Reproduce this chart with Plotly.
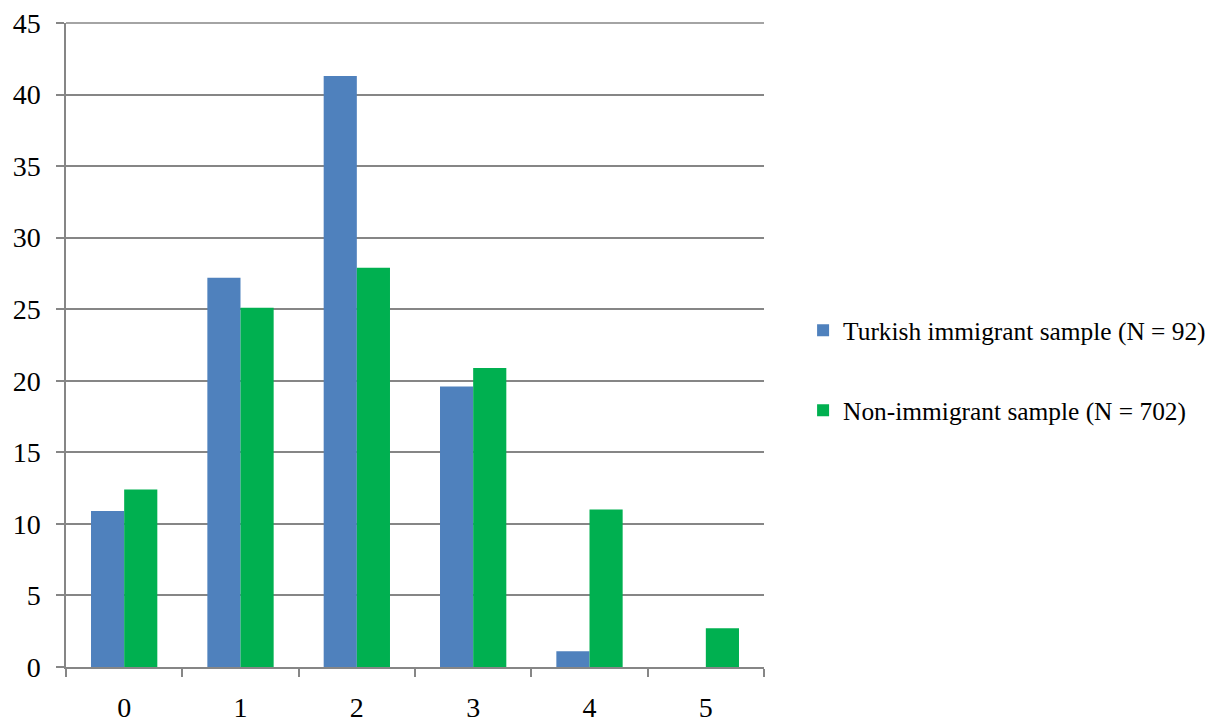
import plotly.graph_objects as go

categories = ["0", "1", "2", "3", "4", "5"]
turkish = [10.9, 27.2, 41.3, 19.6, 1.1, 0]
non_immigrant = [12.4, 25.1, 27.9, 20.9, 11.0, 2.7]
series_names = ["Turkish immigrant sample (N = 92)", "Non-immigrant sample (N = 702)"]
y_ticks = [0, 5, 10, 15, 20, 25, 30, 35, 40, 45]

fig = go.Figure()
fig.add_trace(go.Bar(x=categories, y=turkish, name=series_names[0],
                     marker=dict(color="#4F81BD", line=dict(width=0)),
                     legendgroup="a"))
fig.add_trace(go.Bar(x=categories, y=non_immigrant, name=series_names[1],
                     marker=dict(color="#00B050", line=dict(width=0)),
                     legendgroup="b"))

# top gridline (at the upper end of the value axis)
fig.add_shape(type="line", xref="x domain", yref="y domain", x0=0, x1=1, y0=1, y1=1,
              line=dict(color="#868686", width=1.5), layer="below")

fig.update_layout(
    width=1218, height=723,
    margin=dict(l=58, r=462, t=15, b=64, autoexpand=False),
    paper_bgcolor="white", plot_bgcolor="white",
    font=dict(family="Times New Roman, Liberation Serif, serif", size=28, color="black"),
    barmode="group", bargap=0.43, bargroupgap=0,
    legend=dict(x=1.056, y=0.46, xanchor="left", yanchor="middle",
                font=dict(size=25.4), tracegroupgap=44, itemwidth=30),
    showlegend=True,
)
fig.update_xaxes(type="category", tickson="boundaries", ticks="outside", ticklen=8,
                 tickcolor="#868686", tickwidth=1.5, showline=True, linecolor="#868686",
                 linewidth=1.5, showgrid=False, tickfont=dict(size=28), automargin=False,
                 ticklabelstandoff=15, ticklabeloverflow="allow")
fig.update_yaxes(range=[0, 45], tickvals=y_ticks, ticks="outside", ticklen=8,
                 tickcolor="#868686", tickwidth=1.5, showline=True, linecolor="#868686",
                 linewidth=1.5, showgrid=True, gridcolor="#868686", gridwidth=1.5,
                 zeroline=False, tickfont=dict(size=28), automargin=False,
                 ticklabelstandoff=10, ticklabeloverflow="allow")

fig.write_html("out.html")
